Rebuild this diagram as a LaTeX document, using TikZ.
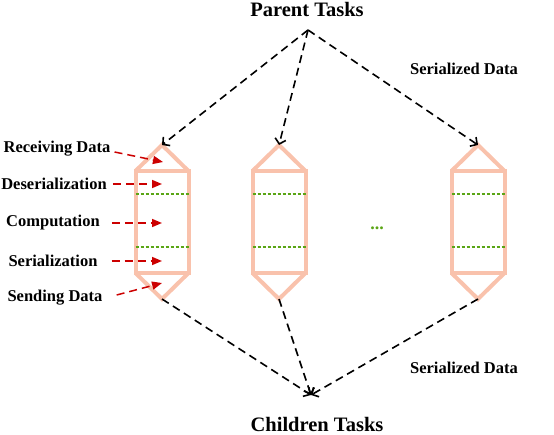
\documentclass[tikz,border=0pt]{standalone}
\usepackage{fontspec}
\setmainfont{Liberation Serif}
\usetikzlibrary{arrows.meta}
\definecolor{boxc}{HTML}{F9C2AC}
\definecolor{grn}{HTML}{5AA514}
\definecolor{redc}{HTML}{CC0000}
\tikzset{
  boxline/.style={draw=boxc, line width=4pt, line join=miter},
  sepline/.style={draw=grn, line width=2.2pt, dash pattern=on 3pt off 2pt},
  flow/.style={draw=black, line width=1.6pt, dash pattern=on 8pt off 5pt, -{Straight Barb[length=5pt,width=11pt,line width=1.6pt]}},
  lab/.style={draw=redc, line width=1.5pt, dash pattern=on 8pt off 5pt, -{Triangle[length=10pt,width=8pt]}, redc},
  txt/.style={font=\fontsize{16.5}{18}\selectfont\bfseries, inner sep=0pt, anchor=center},
  title/.style={font=\fontsize{20.5}{22}\selectfont\bfseries, inner sep=0pt, anchor=center}
}
\begin{document}
\begin{tikzpicture}[x=1pt,y=-1pt]
\useasboundingbox (0,0) rectangle (554,434);
% task boxes
\foreach \cx in {162, 279, 478}{
  \draw[boxline] (\cx-26.5,171) rectangle (\cx+26.5,273);
  \draw[boxline] (\cx-26.5,171) -- (\cx,145) -- (\cx+26.5,171);
  \draw[boxline] (\cx-26.5,273) -- (\cx,299) -- (\cx+26.5,273);
  \draw[sepline] (\cx-26.5,194) -- (\cx+26.5,194);
  \draw[sepline] (\cx-26.5,247) -- (\cx+26.5,247);
}
\coordinate (atop) at (162,145);
\coordinate (btop) at (279,145);
\coordinate (ctop) at (478,145);
\coordinate (abot) at (162,299);
\coordinate (bbot) at (279,299);
\coordinate (cbot) at (478,299);
\node[draw=none, text=grn, font=\fontsize{18}{18}\selectfont\bfseries, inner sep=0pt, anchor=base] (dots) at (377,229) {...};
% titles
\node[title] (parent) at (307,9) {Parent Tasks};
\node[title] (child) at (317,424) {Children Tasks};
\coordinate (ptip) at (308,30);
\coordinate (ctip) at (311,395);
\node[txt] (sd1) at (464,69) {Serialized Data};
\node[txt] (sd2) at (464,368) {Serialized Data};
% flows
\draw[flow] (ptip) -- (atop);
\draw[flow] (ptip) -- (btop);
\draw[flow] (ptip) -- (ctop);
\draw[flow] (abot) -- (ctip);
\draw[flow] (bbot) -- (ctip);
\draw[flow] (cbot) -- (ctip);
% left labels
\node[txt] (l1) at (57,149) {Receiving Data};
\node[txt] (l2) at (54,184) {Deserialization};
\node[txt] (l3) at (53,223) {Computation};
\node[txt] (l4) at (53,261) {Serialization};
\node[txt] (l5) at (55,298) {Sending Data};
\coordinate (t1) at (163,162);
\coordinate (t2) at (162,184);
\coordinate (t3) at (162,223);
\coordinate (t4) at (162,261);
\coordinate (t5) at (162,283);
\draw[lab] ([shift={(4,3)}]l1.east) -- (t1);
\draw[lab] ([shift={(6,0)}]l2.east) -- (t2);
\draw[lab] ([shift={(12,0)}]l3.east) -- (t3);
\draw[lab] ([shift={(14,0)}]l4.east) -- (t4);
\draw[lab] ([shift={(14,-3)}]l5.east) -- (t5);
\end{tikzpicture}
\end{document}
